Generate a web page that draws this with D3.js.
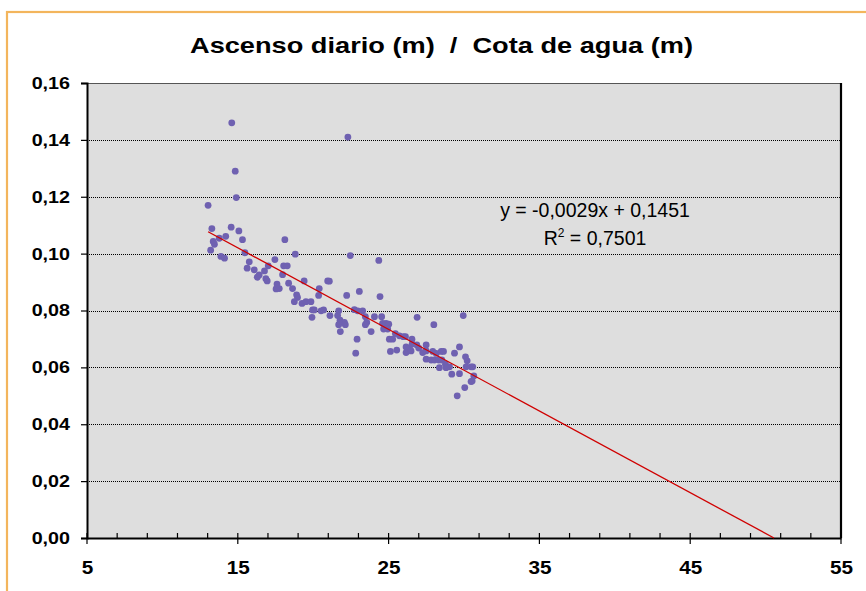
<!DOCTYPE html>
<html>
<head>
<meta charset="utf-8">
<script src="https://cdn.jsdelivr.net/npm/d3@7"></script>
<style>
  body { margin: 0; background: #fff; }
  svg { display: block; font-family: "Liberation Sans", Arial, sans-serif; }
</style>
</head>
<body>
<svg id="chart"></svg>
<script>
// DATA
const cotaAgua = [
  14.6, 22.3, 14.83, 14.9, 13.03, 13.28, 14.56, 15.07, 15.31, 18.12,
  14.2, 13.77, 13.37, 13.45, 13.2, 15.47, 22.46, 13.88, 14.12, 18.81,
  15.76, 17.46, 15.62, 16.09, 17.02, 18.04, 18.28, 16.77, 16.42, 16.29,
  17.97, 16.86, 16.95, 19.4, 20.96, 21.07, 24.35, 18.37, 18.63, 17.75,
  17.54, 17.6, 18.9, 18.96, 20.4, 20.36, 22.22, 23.06, 24.43, 18.75,
  19.26, 19.52, 19.85, 19.96, 20.07, 20.52, 20.69, 19.92, 21.11, 21.62,
  21.69, 22.73, 22.95, 23.28, 21.78, 21.69, 22.07, 22.13, 21.8, 23.46,
  23.55, 23.46, 23.84, 24.06, 24.54, 24.6, 24.83, 25.01, 24.67, 24.94,
  22.91, 22.82, 25.45, 25.72, 25.98, 26.12, 25.05, 25.27, 25.12, 25.54,
  26.55, 26.89, 28.0, 29.95, 26.16, 26.38, 26.56, 26.87, 27.0, 26.16,
  26.49, 27.49, 27.49, 27.26, 27.93, 28.16, 28.49, 28.64, 27.49, 27.82,
  28.04, 28.33, 28.53, 29.37, 29.7, 28.77, 29.04, 28.37, 28.81, 29.19,
  29.7, 30.1, 30.21, 30.14, 30.47, 30.58, 30.54, 30.47, 30.65, 30.05,
  29.55
];
const ascensoDiario = [
  0.146, 0.141, 0.129, 0.1197, 0.117, 0.1088, 0.1093, 0.108, 0.1049, 0.1049,
  0.1061, 0.1054, 0.1043, 0.1033, 0.1012, 0.1003, 0.0993, 0.099, 0.0984, 0.0998,
  0.0971, 0.0979, 0.0949, 0.0943, 0.0957, 0.0957, 0.0957, 0.0939, 0.0925, 0.0917,
  0.0926, 0.0912, 0.0904, 0.0904, 0.0904, 0.0903, 0.0976, 0.0896, 0.0877, 0.0877,
  0.0876, 0.0893, 0.0855, 0.0846, 0.0877, 0.0853, 0.0853, 0.0867, 0.0849, 0.0831,
  0.0825, 0.0831, 0.0831, 0.0802, 0.0802, 0.0799, 0.0802, 0.0776, 0.0782, 0.0782,
  0.0799, 0.0803, 0.0799, 0.0799, 0.0766, 0.075, 0.0758, 0.075, 0.0726, 0.0778,
  0.0758, 0.075, 0.0726, 0.0778, 0.0778, 0.0755, 0.0755, 0.0752, 0.0735, 0.0735,
  0.0699, 0.065, 0.0719, 0.0711, 0.0708, 0.0708, 0.0699, 0.0699, 0.0656, 0.0661,
  0.0699, 0.0776, 0.075, 0.0782, 0.0672, 0.0668, 0.0682, 0.0679, 0.0668, 0.0652,
  0.0658, 0.0679, 0.0658, 0.0652, 0.0656, 0.0649, 0.0656, 0.0656, 0.0629, 0.0626,
  0.0626, 0.0626, 0.0626, 0.065, 0.0672, 0.0611, 0.0602, 0.0599, 0.0599, 0.0576,
  0.0578, 0.0637, 0.0623, 0.0602, 0.0602, 0.0602, 0.0552, 0.055, 0.057, 0.0529,
  0.05
];
const xTicks = [5, 15, 25, 35, 45, 55];
const yTicks = [0, 0.02, 0.04, 0.06, 0.08, 0.1, 0.12, 0.14, 0.16];

// trend line as drawn (label shows rounded values)
const trendSlope = -0.00287;
const trendIntercept = 0.1451;
const equationText = "y = -0,0029x + 0,1451";
const r2Value = "0,7501";
const titleText = "Ascenso diario (m)  /  Cota de agua (m)";

// DIMENSIONS
const W = 866, H = 591;
const plot = { left: 87, right: 841, top: 83, bottom: 538 };

const svg = d3.select("#chart").attr("width", W).attr("height", H);

const x = d3.scaleLinear().domain([5, 55]).range([plot.left, plot.right]);
const y = d3.scaleLinear().domain([0, 0.16]).range([plot.bottom, plot.top]);
const fmt = d => d3.format(".2f")(d).replace(".", ",");

// the original text is a bit wider than Liberation Sans, stretch it
function widen(sel, factor) {
  sel.each(function () {
    const w = this.getComputedTextLength();
    d3.select(this)
      .attr("textLength", w * factor)
      .attr("lengthAdjust", "spacingAndGlyphs");
  });
}

// outer frame (orange, runs off the page)
svg.append("rect")
  .attr("x", 7).attr("y", 12)
  .attr("width", W + 20).attr("height", H + 20)
  .attr("fill", "#fff")
  .attr("stroke", "#f3b55c")
  .attr("stroke-width", 2.2);

// title
svg.append("text")
  .attr("x", 190).attr("y", 52.5)
  .attr("font-size", 22).attr("font-weight", "bold")
  .attr("fill", "#000")
  .attr("xml:space", "preserve")
  .style("white-space", "pre")
  .attr("textLength", 503)
  .attr("lengthAdjust", "spacingAndGlyphs")
  .text(titleText);

// plot area
svg.append("rect")
  .attr("x", plot.left).attr("y", plot.top)
  .attr("width", plot.right - plot.left)
  .attr("height", plot.bottom - plot.top)
  .attr("fill", "#dedede");

// gridlines
svg.append("g")
  .selectAll("line")
  .data(yTicks.filter(d => d > 0 && d < 0.16))
  .join("line")
  .attr("x1", plot.left).attr("x2", plot.right)
  .attr("y1", d => Math.round(y(d)) + 0.5).attr("y2", d => Math.round(y(d)) + 0.5)
  .attr("stroke", "#000")
  .attr("stroke-width", 1)
  .attr("stroke-dasharray", "1,1");

// frame of plot area: top gray, right black
svg.append("line")
  .attr("x1", plot.left).attr("x2", plot.right)
  .attr("y1", plot.top + 0.5).attr("y2", plot.top + 0.5)
  .attr("stroke", "#555").attr("stroke-width", 1.2);
svg.append("line")
  .attr("x1", plot.right).attr("x2", plot.right)
  .attr("y1", plot.top).attr("y2", plot.bottom)
  .attr("stroke", "#000").attr("stroke-width", 2.2);

// y axis
const yAxis = svg.append("g")
  .attr("transform", `translate(${plot.left},0)`)
  .call(d3.axisLeft(y).tickValues(yTicks).tickFormat(fmt).tickSize(6).tickPadding(11));
yAxis.select(".domain").attr("stroke", "#000").attr("stroke-width", 2);
yAxis.selectAll(".tick line").attr("stroke", "#000").attr("stroke-width", 1.2);
yAxis.selectAll(".tick text")
  .attr("font-family", "Liberation Sans, Arial, sans-serif")
  .attr("font-size", 17).attr("font-weight", "bold").attr("fill", "#000")
  .call(widen, 1.16);

// x axis: minor ticks inside, major ticks crossing
const xMinor = d3.range(5, 55.001, 2).filter(d => !xTicks.includes(d));
svg.append("g")
  .selectAll("line")
  .data(xMinor)
  .join("line")
  .attr("x1", d => x(d)).attr("x2", d => x(d))
  .attr("y1", plot.bottom).attr("y2", plot.bottom - 5)
  .attr("stroke", "#000").attr("stroke-width", 1.2);
svg.append("g")
  .selectAll("line")
  .data(xTicks)
  .join("line")
  .attr("x1", d => x(d)).attr("x2", d => x(d))
  .attr("y1", plot.bottom - 5).attr("y2", plot.bottom + 6)
  .attr("stroke", "#000").attr("stroke-width", 1.2);

const xAxis = svg.append("g")
  .attr("transform", `translate(0,${plot.bottom})`)
  .call(d3.axisBottom(x).tickValues(xTicks).tickSize(0).tickPadding(23));
xAxis.select(".domain").attr("stroke", "#000").attr("stroke-width", 2.2);
xAxis.selectAll(".tick text")
  .attr("font-family", "Liberation Sans, Arial, sans-serif")
  .attr("font-size", 18.5).attr("font-weight", "bold").attr("fill", "#000")
  .call(widen, 1.12);

// scatter points
const points = cotaAgua.map((c, i) => ({ c, a: ascensoDiario[i] }));
svg.append("g")
  .selectAll("circle")
  .data(points)
  .join("circle")
  .attr("cx", d => x(d.c))
  .attr("cy", d => y(d.a))
  .attr("r", 3.4)
  .attr("fill", "#6f61b1");

// trend line
const xStart = d3.min(cotaAgua);
const xEnd = -trendIntercept / trendSlope;
svg.append("line")
  .attr("x1", x(xStart)).attr("y1", y(trendIntercept + trendSlope * xStart))
  .attr("x2", x(xEnd)).attr("y2", y(0))
  .attr("stroke", "#d00000")
  .attr("stroke-width", 1.3);

// equation label
const eq = svg.append("g").attr("font-size", 19.5).attr("fill", "#000");
eq.append("text")
  .attr("x", 595).attr("y", 216.5)
  .attr("text-anchor", "middle")
  .text(equationText);
const r2 = eq.append("text")
  .attr("x", 595).attr("y", 245)
  .attr("text-anchor", "middle");
r2.append("tspan").text("R");
r2.append("tspan").attr("font-size", 12).attr("dy", -8).text("2");
r2.append("tspan").attr("dy", 8).text(" = " + r2Value);
</script>
</body>
</html>
